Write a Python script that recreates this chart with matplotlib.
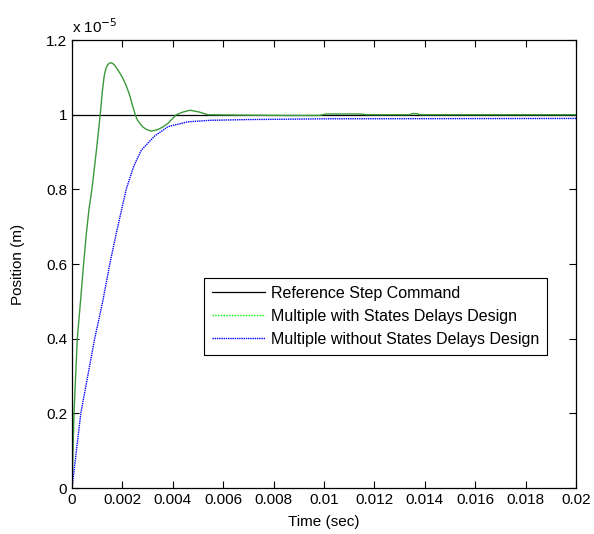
import numpy as np
import matplotlib.pyplot as plt
from matplotlib.lines import Line2D

plt.rcParams['font.family']=['Liberation Sans','DejaVu Sans']
plt.rcParams['font.size']=11

# time (sec) and positions in units of 1e-5 m
t_ref=[0,0.02]
y_ref=[1,1]

t_with=[0,0.00008,0.00021,0.00035,0.00046,0.00057,0.00068,0.00079,0.00097,0.00112,0.0012,0.00128,0.00135,0.00142,
        0.00148,0.00155,0.00162,0.0017,0.00185,0.002,0.00214,0.0023,0.0024,0.00251,0.0026,0.00269,0.0028,0.00294,
        0.00315,0.0034,0.0036,0.00381,0.00414,0.0044,0.00468,0.005,0.0054,0.0065,
        0.0085,0.0098,0.0101,0.0114,0.0117,0.0134,0.0135,0.0137,0.0138,0.02]
y_with=[0,0.2,0.4,0.51,0.6,0.682,0.75,0.8,0.905,1.0,1.06,1.105,1.125,1.134,
        1.138,1.139,1.137,1.132,1.117,1.1,1.08,1.05,1.025,1.0,0.985,0.977,0.968,0.961,
        0.956,0.96,0.967,0.977,1.0,1.007,1.012,1.008,1.0,0.999,
        0.998,0.998,1.002,1.002,1.0,1.0,1.003,1.003,1.0,1.0]

t_without=[0,0.00035,0.0009,0.00122,0.0015,0.00175,0.00215,0.00245,0.00275,0.00328,0.00381,0.0046,0.0055,
           0.007,0.01,0.02]
y_without=[0,0.2,0.4,0.5,0.6,0.68,0.8,0.862,0.905,0.943,0.968,0.981,0.985,
           0.987,0.989,0.99]

labels=['Reference Step Command','Multiple with States Delays Design','Multiple without States Delays Design']

fig=plt.figure(figsize=(5.94,5.34),dpi=100)
ax=fig.add_axes([0.1212,0.0861,0.8485,0.8389])
ax.plot(t_ref,y_ref,color='black',lw=0.9)
ax.plot(t_with,y_with,color='#3a9a3a',lw=1.0)
ax.plot(t_without,y_without,color='#0000ff',lw=1.0,ls=(0,(1,0.6)))

ax.set_xlim(0,0.02)
ax.set_ylim(0,1.2)
xt=np.arange(0,0.0201,0.002)
ax.set_xticks(xt)
ax.set_xticklabels(['%g'%round(v,3) for v in xt])
yt=np.arange(0,1.21,0.2)
ax.set_yticks(yt)
ax.set_yticklabels(['%g'%round(v,1) for v in yt])
ax.tick_params(direction='in',top=True,right=True,length=5,width=0.8,labelsize=11)
for s in ax.spines.values():
 s.set_linewidth(0.9)
ax.set_xlabel('Time (sec)',labelpad=6)
ax.set_ylabel('Position (m)',labelpad=15)
ax.text(0.0,1.01,r'x 10$^{-5}$',transform=ax.transAxes,ha='left',va='bottom',fontsize=11)

handles=[Line2D([],[],color='black',lw=0.9),
         Line2D([],[],color='#00ee00',lw=1.0,ls=(0,(1,1))),
         Line2D([],[],color='#0000ff',lw=1.0,ls=(0,(1,0.6)))]
leg=ax.legend(handles,labels,loc='upper left',bbox_to_anchor=(0.262,0.469),borderaxespad=0,fancybox=False,
              fontsize=11.5,framealpha=1,edgecolor='black',handlelength=3.3,borderpad=0.5,labelspacing=0.5,
              handletextpad=0.4)
leg.get_frame().set_linewidth(0.8)

plt.savefig('out.png',dpi=100)
